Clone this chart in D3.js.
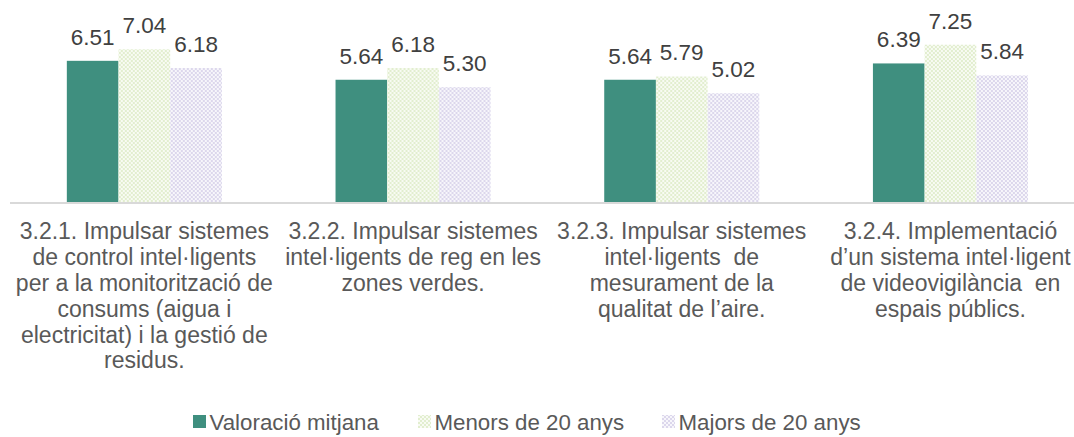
<!DOCTYPE html>
<html>
<head>
<meta charset="utf-8">
<script src="https://cdn.jsdelivr.net/npm/d3@7"></script>
<style>
  html, body { margin: 0; padding: 0; background: #ffffff; }
  svg { display: block; font-family: "Liberation Sans", Arial, sans-serif; }
</style>
</head>
<body>
<svg id="chart" width="1074" height="437"></svg>
<script>
// Categories (each label already broken into its display lines)
const categories = ["3.2.1", "3.2.2", "3.2.3", "3.2.4"];
const categoryLines = [
  ["3.2.1. Impulsar sistemes", "de control intel·ligents", "per a la monitorització de", "consums (aigua i", "electricitat) i la gestió de", "residus."],
  ["3.2.2. Impulsar sistemes", "intel·ligents de reg en les", "zones verdes."],
  ["3.2.3. Impulsar sistemes", "intel·ligents  de", "mesurament de la", "qualitat de l’aire."],
  ["3.2.4. Implementació", "d’un sistema intel·ligent", "de videovigilància  en", "espais públics."]
];
const seriesNames = ["Valoració mitjana", "Menors de 20 anys", "Majors de 20 anys"];
const valoracioMitjana = [6.51, 5.64, 5.64, 6.39];
const menors20 = [7.04, 6.18, 5.79, 7.25];
const majors20 = [6.18, 5.30, 5.02, 5.84];
const seriesValues = [valoracioMitjana, menors20, majors20];

const svg = d3.select("#chart");
const defs = svg.append("defs");

// Fine checker fills for the two age groups
function checker(id, dark, light) {
  const p = defs.append("pattern")
    .attr("id", id).attr("width", 4).attr("height", 4)
    .attr("patternUnits", "userSpaceOnUse");
  p.append("rect").attr("width", 4).attr("height", 4).attr("fill", light);
  p.append("rect").attr("width", 2).attr("height", 2).attr("fill", dark);
  p.append("rect").attr("x", 2).attr("y", 2).attr("width", 2).attr("height", 2).attr("fill", dark);
}
checker("pMenors", "#e2eecf", "#f8fbf3");
checker("pMajors", "#dcd7ec", "#f7f6fb");

const fills = ["#3f8f7f", "url(#pMenors)", "url(#pMajors)"];

const plot = { left: 10, right: 1084.8, top: 28.4, bottom: 202.5 };

const x0 = d3.scaleBand()
  .domain(categories)
  .range([plot.left, plot.right])
  .paddingInner(0.423)
  .paddingOuter(0.2115);

const x1 = d3.scaleBand()
  .domain(d3.range(seriesNames.length))
  .range([0, x0.bandwidth()])
  .padding(0);

const y = d3.scaleLinear()
  .domain([0, 8])
  .range([plot.bottom, plot.top]);

// Bars and value labels
const groups = svg.append("g").selectAll("g")
  .data(categories)
  .join("g")
  .attr("transform", d => `translate(${x0(d)},0)`);

groups.each(function (cat, ci) {
  const g = d3.select(this);
  seriesValues.forEach((vals, si) => {
    const v = vals[ci];
    g.append("rect")
      .attr("x", x1(si))
      .attr("y", y(v))
      .attr("width", x1.bandwidth())
      .attr("height", y(0) - y(v))
      .attr("fill", fills[si]);
    g.append("text")
      .attr("x", x1(si) + x1.bandwidth() / 2)
      .attr("y", y(v) - 16)
      .attr("text-anchor", "middle")
      .attr("font-size", 22.5)
      .attr("fill", "#404040")
      .text(v.toFixed(2));
  });
});

// Category axis line
svg.append("line")
  .attr("x1", plot.left).attr("x2", plot.right)
  .attr("y1", y(0) + 0.5).attr("y2", y(0) + 0.5)
  .attr("stroke", "#d9d9d9").attr("stroke-width", 2);

// Category labels
categories.forEach((cat, ci) => {
  const cx = x0(cat) + x0.bandwidth() / 2;
  const t = svg.append("text")
    .attr("text-anchor", "middle")
    .attr("font-size", 23)
    .attr("fill", "#595959")
    .attr("xml:space", "preserve");
  categoryLines[ci].forEach((line, li) => {
    t.append("tspan")
      .attr("x", cx)
      .attr("y", 239.3 + li * 25.8)
      .text(line);
  });
});

// Legend
const legendX = [193, 418, 662];
const legend = svg.append("g");
seriesNames.forEach((name, si) => {
  legend.append("rect")
    .attr("x", legendX[si]).attr("y", 415)
    .attr("width", 13).attr("height", 13)
    .attr("fill", fills[si]);
  legend.append("text")
    .attr("x", legendX[si] + 16.5).attr("y", 430)
    .attr("font-size", 22.3)
    .attr("fill", "#595959")
    .text(name);
});
</script>
</body>
</html>
